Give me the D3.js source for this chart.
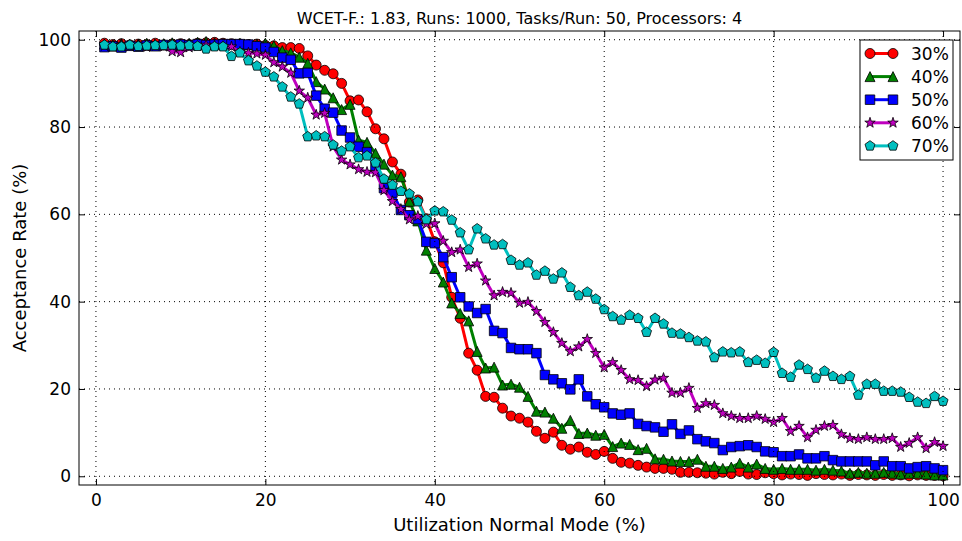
<!DOCTYPE html>
<html>
<head>
<meta charset="utf-8">
<script src="https://cdn.jsdelivr.net/npm/d3@7"></script>
<style>
body { margin: 0; background: #fff; }
text { font-family: "DejaVu Sans", sans-serif; fill: #000; }
</style>
</head>
<body>
<svg id="chart" width="962" height="541"></svg>
<script>
// utilization of normal mode (%), one point per step
const utilization = [1,2,3,4,5,6,7,8,9,10,11,12,13,14,15,16,17,18,19,20,
	21,22,23,24,25,26,27,28,29,30,31,32,33,34,35,36,37,38,39,40,
	41,42,43,44,45,46,47,48,49,50,51,52,53,54,55,56,57,58,59,60,
	61,62,63,64,65,66,67,68,69,70,71,72,73,74,75,76,77,78,79,80,
	81,82,83,84,85,86,87,88,89,90,91,92,93,94,95,96,97,98,99,100];

// acceptance rate (%) per series
const acc30 = [99.2,98.9,99.1,98.8,99.0,98.9,99.2,98.8,99.0,99.1,
	98.9,99.2,99.3,99.4,99.2,99.1,99.0,98.9,99.0,98.7,
	98.6,98.2,98.2,98.0,96.3,94.2,93.0,92.2,90.0,86.0,
	86.2,83.5,79.6,77.3,72.0,69.2,62.8,63.3,59.0,53.7,
	48.9,41.0,36.2,28.2,24.3,18.3,18.1,15.6,13.8,13.3,
	12.4,10.3,8.7,10.1,7.1,6.2,6.7,5.5,5.0,5.7,
	4.1,3.2,3.0,2.5,2.1,1.8,1.8,1.6,0.9,0.9,
	0.8,0.7,0.5,0.9,0.6,1.1,0.5,0.4,0.8,0.6,
	0.3,0.5,0.4,0.2,0.6,0.4,0.3,0.5,0.2,0.4,
	0.3,0.2,0.4,0.2,0.3,0.1,0.3,0.2,0.2,0.1];
const acc40 = [99.0,98.8,99.1,98.9,99.0,99.2,98.9,99.1,99.3,99.0,
	99.2,99.4,99.6,99.3,99.1,99.0,99.2,98.9,99.0,99.2,
	98.6,97.5,97.0,96.0,94.6,90.4,88.7,86.7,84.0,85.2,
	77.0,76.5,74.0,71.5,69.0,68.6,63.0,58.5,51.8,47.6,
	44.5,39.7,37.3,35.6,28.6,24.8,25.0,20.9,21.1,20.4,
	18.3,14.9,14.7,13.3,11.0,12.8,9.8,9.9,9.4,9.6,
	6.8,7.6,7.3,6.1,6.4,4.0,3.9,3.5,3.4,3.4,
	3.9,2.3,2.3,1.8,2.1,3.0,2.1,2.8,1.8,1.6,
	1.8,1.6,1.6,1.6,1.4,1.6,1.4,1.2,0.7,0.9,
	0.7,0.7,0.9,0.7,0.5,0.7,0.7,0.5,0.3,0.3];
const acc50 = [98.3,98.5,98.2,98.6,98.4,98.7,98.5,98.8,98.6,98.9,
	98.7,99.0,98.8,98.9,99.0,99.0,99.0,98.9,98.5,98.2,
	97.2,95.9,95.4,92.3,92.4,87.2,84.2,83.3,79.2,77.6,
	75.5,74.2,71.0,66.0,65.0,61.0,59.8,58.9,53.7,53.4,
	50.2,45.6,41.0,38.9,37.4,38.3,33.3,32.8,29.4,29.1,
	29.1,28.2,23.2,22.2,21.3,19.9,22.2,18.3,16.5,15.8,
	14.4,14.1,14.4,12.0,11.5,11.2,10.2,11.9,9.7,10.5,
	8.5,8.0,7.6,6.0,6.7,6.9,7.1,6.7,5.7,5.5,
	4.6,4.6,5.0,4.1,4.1,4.6,3.7,3.4,3.4,3.4,
	3.4,2.5,3.4,2.3,2.3,1.8,2.1,2.3,1.8,1.4];
const acc60 = [98.6,98.4,98.8,98.5,98.7,98.3,98.6,98.4,97.3,97.1,
	98.2,98.5,98.8,98.6,98.5,98.4,97.2,97.0,96.8,96.5,
	94.8,93.8,92.4,88.3,86.7,82.8,83.2,75.5,72.5,71.4,
	70.3,69.7,69.6,65.5,63.0,61.2,58.8,59.6,57.8,57.9,
	53.9,51.3,51.9,47.9,48.7,44.8,41.4,42.2,42.0,39.7,
	39.9,37.8,35.3,33.0,30.5,28.6,29.7,31.4,28.2,24.9,
	26.1,24.3,22.2,22.0,20.6,22.1,22.5,19.1,19.1,20.2,
	15.6,16.7,16.3,14.4,13.8,13.3,13.3,13.8,13.1,12.4,
	13.3,10.3,11.5,8.9,10.6,11.5,11.7,9.6,8.7,8.5,
	8.9,8.5,8.5,8.7,6.7,7.6,8.9,6.4,7.8,6.9];
const acc70 = [98.8,98.4,98.4,98.8,98.5,98.6,98.7,98.7,98.8,98.6,
	98.7,98.5,97.9,98.4,98.4,96.2,97.0,95.2,94.0,92.6,
	91.5,89.2,86.9,85.3,77.8,78.0,77.8,75.9,74.5,75.5,
	73.0,73.4,71.8,68.1,66.7,65.3,64.7,62.9,58.8,60.8,
	60.6,58.7,55.8,51.9,56.7,54.4,53.0,53.1,49.5,48.4,
	48.9,46.1,47.0,45.2,46.6,43.3,41.4,42.2,40.6,38.2,
	36.6,35.8,36.9,36.2,33.0,36.2,34.9,32.8,32.6,31.8,
	31.0,30.8,27.2,28.5,28.3,28.5,26.1,26.6,25.9,28.4,
	23.6,22.7,25.5,24.5,22.5,24.1,22.9,22.2,22.9,18.6,
	21.1,21.1,19.5,19.5,19.3,18.1,17.0,16.7,18.3,17.2];

const seriesNames = ["30%", "40%", "50%", "60%", "70%"];
const seriesValues = [acc30, acc40, acc50, acc60, acc70];
const seriesColors = ["#ff0000", "#008000", "#0000ff", "#bf00bf", "#00bfbf"];
const seriesMarkers = ["circle", "triangle", "square", "star", "pentagon"];
const xTicks = [0, 20, 40, 60, 80, 100];
const yTicks = [0, 20, 40, 60, 80, 100];

const titleText = "WCET-F.: 1.83, Runs: 1000, Tasks/Run: 50, Processors: 4";

let plotLeft = 79, plotRight = 960, plotTop = 31, plotBottom = 485;

let svg = d3.select("#chart");

let xscale = d3.scaleLinear().domain([-2, 102]).range([plotLeft, plotRight]);
let yscale = d3.scaleLinear().domain([-2, 102]).range([plotBottom, plotTop]);

// marker shapes, same idea as matplotlib o ^ s * p
function markerPath(type, r) {
	if (type == "circle") {
		return d3.symbol(d3.symbolCircle, Math.PI * r * r)();
	}
	if (type == "square") {
		let s = r * 0.95;
		return "M" + (-s) + "," + (-s) + "H" + s + "V" + s + "H" + (-s) + "Z";
	}
	if (type == "triangle") {
		return "M0," + (-r) + "L" + r + "," + r + "L" + (-r) + "," + r + "Z";
	}
	let pts = [];
	if (type == "star") {
		for (let i = 0; i < 10; i++) {
			let a = -Math.PI / 2 + i * Math.PI / 5;
			let rr = (i % 2 == 0) ? r * 1.1 : r * 1.1 * 0.382;
			pts.push([rr * Math.cos(a), rr * Math.sin(a)]);
		}
	} else {
		for (let i = 0; i < 5; i++) {
			let a = -Math.PI / 2 + i * 2 * Math.PI / 5;
			pts.push([r * 1.05 * Math.cos(a), r * 1.05 * Math.sin(a)]);
		}
	}
	return "M" + pts.map(p => p[0].toFixed(2) + "," + p[1].toFixed(2)).join("L") + "Z";
}

let plot = svg.append("g");

let line = d3.line()
	.x(function(d, i) { return xscale(utilization[i]); })
	.y(function(d) { return yscale(d); });

seriesValues.forEach(function(vals, k) {
	let g = plot.append("g");
	g.append("path")
		.datum(vals)
		.attr("fill", "none")
		.attr("stroke", seriesColors[k])
		.attr("stroke-width", 3)
		.attr("stroke-linejoin", "round")
		.attr("d", line);
	g.selectAll("path.mk")
		.data(vals)
		.enter().append("path")
		.attr("class", "mk")
		.attr("d", markerPath(seriesMarkers[k], 5))
		.attr("transform", function(d, i) { return "translate(" + xscale(utilization[i]) + "," + yscale(d) + ")"; })
		.attr("fill", seriesColors[k])
		.attr("stroke", "#000")
		.attr("stroke-width", 0.8);
});

// dotted grid, drawn over the lines like the classic style
let grid = svg.append("g");
grid.selectAll("line.gx").data(xTicks).enter().append("line")
	.attr("x1", d => xscale(d)).attr("x2", d => xscale(d))
	.attr("y1", plotTop).attr("y2", plotBottom)
	.attr("stroke", "#000").attr("stroke-width", 1).attr("stroke-dasharray", "1,4");
grid.selectAll("line.gy").data(yTicks).enter().append("line")
	.attr("y1", d => yscale(d)).attr("y2", d => yscale(d))
	.attr("x1", plotLeft).attr("x2", plotRight)
	.attr("stroke", "#000").attr("stroke-width", 1).attr("stroke-dasharray", "1,4");

// axes with inward ticks on all four sides
let xAxis = d3.axisBottom(xscale).tickValues(xTicks).tickSizeInner(-6).tickSizeOuter(0).tickPadding(9);
let yAxis = d3.axisLeft(yscale).tickValues(yTicks).tickSizeInner(-6).tickSizeOuter(0).tickPadding(8);
let xTop = d3.axisTop(xscale).tickValues(xTicks).tickSizeInner(-6).tickSizeOuter(0).tickFormat("");
let yRight = d3.axisRight(yscale).tickValues(yTicks).tickSizeInner(-6).tickSizeOuter(0).tickFormat("");

function styleAxis(sel) {
	sel.select(".domain").remove();
	sel.selectAll("line").attr("stroke", "#000");
	sel.selectAll("text").style("font-family", "DejaVu Sans").style("font-size", "17px").attr("fill", "#000");
}

svg.append("g").attr("transform", "translate(0," + plotBottom + ")").call(xAxis).call(styleAxis);
svg.append("g").attr("transform", "translate(" + plotLeft + ",0)").call(yAxis).call(styleAxis);
svg.append("g").attr("transform", "translate(0," + plotTop + ")").call(xTop).call(styleAxis);
svg.append("g").attr("transform", "translate(" + plotRight + ",0)").call(yRight).call(styleAxis);

svg.append("rect")
	.attr("x", plotLeft).attr("y", plotTop)
	.attr("width", plotRight - plotLeft).attr("height", plotBottom - plotTop)
	.attr("fill", "none").attr("stroke", "#000").attr("stroke-width", 1);

// title and axis labels
svg.append("text")
	.attr("x", (plotLeft + plotRight) / 2).attr("y", 24)
	.attr("text-anchor", "middle")
	.style("font-size", "16px")
	.text(titleText);
svg.append("text")
	.attr("x", (plotLeft + plotRight) / 2).attr("y", 531)
	.attr("text-anchor", "middle")
	.style("font-size", "18px")
	.text("Utilization Normal Mode (%)");
svg.append("text")
	.attr("transform", "translate(26," + ((plotTop + plotBottom) / 2) + ") rotate(-90)")
	.attr("text-anchor", "middle")
	.style("font-size", "18px")
	.text("Acceptance Rate (%)");

// legend
let legend = svg.append("g").attr("transform", "translate(860,40)");
legend.append("rect")
	.attr("width", 93).attr("height", 120)
	.attr("fill", "#fff").attr("stroke", "#000").attr("stroke-width", 1);
seriesNames.forEach(function(name, k) {
	let ly = 13.5 + k * 23.1;
	let row = legend.append("g").attr("transform", "translate(0," + ly + ")");
	row.append("line")
		.attr("x1", 10).attr("x2", 33)
		.attr("stroke", seriesColors[k]).attr("stroke-width", 3);
	[10, 33].forEach(function(mx) {
		row.append("path")
			.attr("d", markerPath(seriesMarkers[k], 5))
			.attr("transform", "translate(" + mx + ",0)")
			.attr("fill", seriesColors[k])
			.attr("stroke", "#000").attr("stroke-width", 0.8);
	});
	row.append("text")
		.attr("x", 51).attr("y", 6)
		.style("font-size", "17px")
		.text(name);
});
</script>
</body>
</html>
